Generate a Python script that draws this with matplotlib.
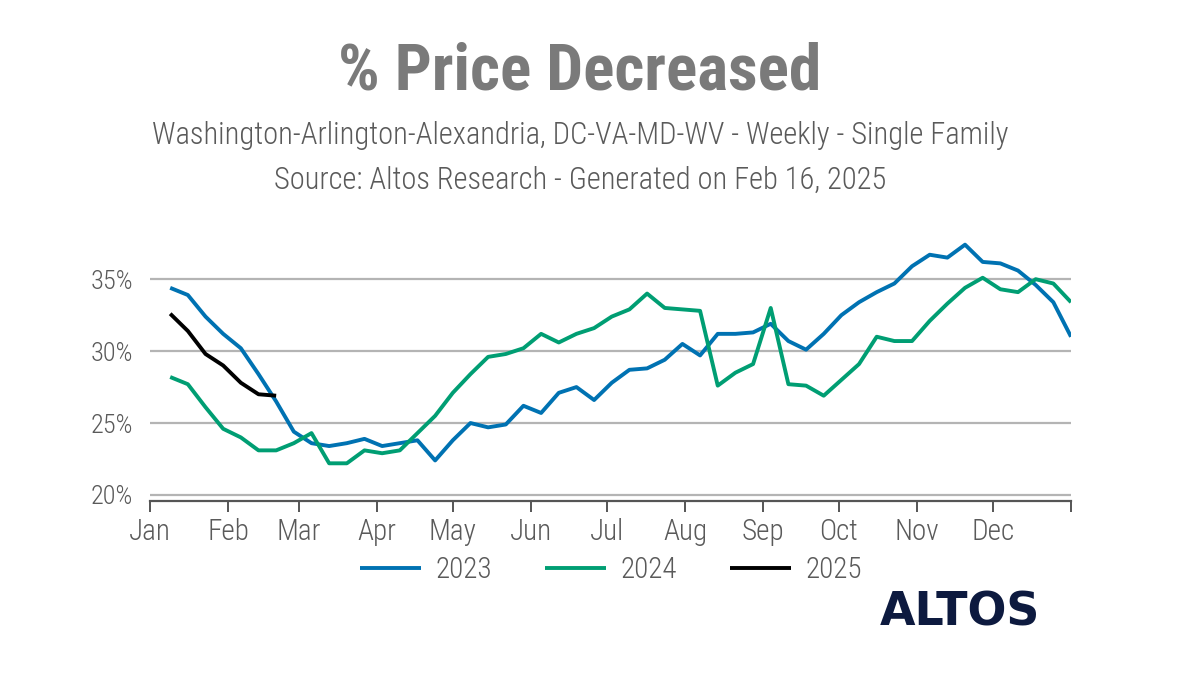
import numpy as np
import matplotlib
matplotlib.use("Agg")
import matplotlib.pyplot as plt
from matplotlib import font_manager

# weekly values (% of listings with a price decrease), one point per week
weeks = list(range(52))
pct_2023 = [34.4, 33.9, 32.4, 31.2, 30.2, 28.4, 26.5, 24.4, 23.6, 23.4,
            23.6, 23.9, 23.4, 23.6, 23.8, 22.4, 23.8, 25.0, 24.7, 24.9,
            26.2, 25.7, 27.1, 27.5, 26.6, 27.8, 28.7, 28.8, 29.4, 30.5,
            29.7, 31.2, 31.2, 31.3, 31.9, 30.7, 30.1, 31.2, 32.5, 33.4,
            34.1, 34.7, 35.9, 36.7, 36.5, 37.4, 36.2, 36.1, 35.6, 34.6,
            33.4, 31.0]
pct_2024 = [28.2, 27.7, 26.1, 24.6, 24.0, 23.1, 23.1, 23.6, 24.3, 22.2,
            22.2, 23.1, 22.9, 23.1, 24.3, 25.5, 27.1, 28.4, 29.6, 29.8,
            30.2, 31.2, 30.6, 31.2, 31.6, 32.4, 32.9, 34.0, 33.0, 32.9,
            32.8, 27.6, 28.5, 29.1, 33.0, 27.7, 27.6, 26.9, 28.0, 29.1,
            31.0, 30.7, 30.7, 32.1, 33.3, 34.4, 35.1, 34.3, 34.1, 35.0,
            34.7, 33.4]
pct_2025 = [32.6, 31.4, 29.8, 29.0, 27.8, 27.0, 26.9]

month_starts = [0, 31, 59, 90, 120, 151, 181, 212, 243, 273, 304, 334, 365]
month_labels = ["Jan", "Feb", "Mar", "Apr", "May", "Jun", "Jul", "Aug",
                "Sep", "Oct", "Nov", "Dec", ""]
y_ticks = [20, 25, 30, 35]

names = {f.name for f in font_manager.fontManager.ttflist}
narrow = next((n for n in ["Roboto Condensed", "Liberation Sans Narrow",
                           "DejaVu Sans Condensed"] if n in names), "DejaVu Sans")
plt.rcParams["font.family"] = [narrow, "DejaVu Sans"]

BLUE = "#0072b2"
GREEN = "#009e73"
TXT = "#5a5a5a"


def day_of(i):
    return 8 + 7 * i


fig = plt.figure(figsize=(12, 6.76), dpi=100)
ax = fig.add_axes([0.125, 1 - 501 / 676, 0.7675, (501 - 230) / 676])

lw = 2.8
ax.plot([day_of(i) for i in weeks], pct_2023, color=BLUE, lw=lw,
        solid_joinstyle="round", solid_capstyle="butt", label="2023")
ax.plot([day_of(i) for i in weeks], pct_2024, color=GREEN, lw=lw,
        solid_joinstyle="round", solid_capstyle="butt", label="2024")
ax.plot([day_of(i) for i in range(len(pct_2025))], pct_2025, color="black",
        lw=lw, solid_joinstyle="round", solid_capstyle="butt", label="2025")

ax.set_xlim(0, 365)
ax.set_ylim(19.58, 38.42)
ax.set_yticks(y_ticks)
ax.set_yticklabels([f"{v}%" for v in y_ticks])
ax.yaxis.grid(True, color="#b4b4b4", lw=1.6)
ax.set_axisbelow(True)
ax.tick_params(axis="y", length=0, labelsize=19, labelcolor=TXT, pad=12)

ax.set_xticks(month_starts)
ax.set_xticklabels(month_labels)
ax.tick_params(axis="x", length=8, width=1.4, color="#555555",
               labelsize=21, labelcolor=TXT, pad=4)
for lab in ax.get_xticklabels() + ax.get_yticklabels():
    lab.set_fontweight("light")
for s in ["top", "right", "left"]:
    ax.spines[s].set_visible(False)
ax.spines["bottom"].set_color("#555555")
ax.spines["bottom"].set_linewidth(1.6)

fig.text(580 / 1200, 1 - 72 / 676, "% Price Decreased", ha="center",
         va="center", fontsize=47, fontweight="bold", color="#7a7a7a")
fig.text(580 / 1200, 1 - 135 / 676,
         "Washington-Arlington-Alexandria, DC-VA-MD-WV - Weekly - Single Family",
         ha="center", va="center", fontsize=22, fontweight="light", color=TXT)
fig.text(580 / 1200, 1 - 180 / 676,
         "Source: Altos Research - Generated on Feb 16, 2025",
         ha="center", va="center", fontsize=22, fontweight="light", color=TXT)

leg = fig.legend(loc="center", bbox_to_anchor=(611 / 1200, 1 - 570 / 676),
                 ncol=3, frameon=False, fontsize=21, handlelength=2.1,
                 handletextpad=0.5, columnspacing=1.8, labelcolor=TXT)
for t in leg.get_texts():
    t.set_fontweight("light")

fig.text(960 / 1200, 1 - 613 / 676, "ALTOS", ha="center", va="center",
         fontsize=33, fontweight="heavy", color="#0d1a3f",
         family=["DejaVu Sans"])

fig.savefig("out.png", dpi=100, facecolor="white")
